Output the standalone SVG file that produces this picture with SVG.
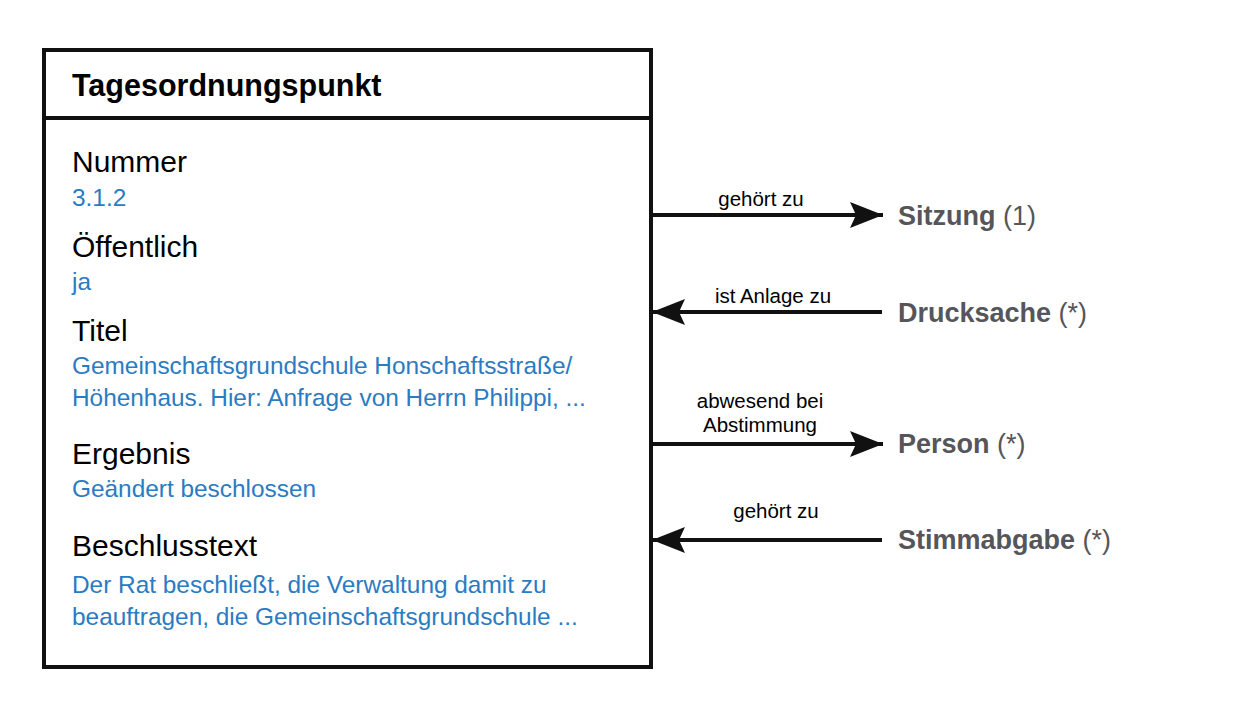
<svg xmlns="http://www.w3.org/2000/svg" width="1256" height="717" viewBox="0 0 1256 717">
<style>
.title{font-family:"Liberation Sans",Arial,sans-serif;font-weight:bold;font-size:30.5px;fill:#000}
.attr{font-family:"Liberation Sans",Arial,sans-serif;font-size:30px;fill:#000}
.val{font-family:"Liberation Sans",Arial,sans-serif;font-size:24.4px;fill:#2a7bc2}
.elabel{font-family:"Liberation Sans",Arial,sans-serif;font-size:20.5px;fill:#000;text-anchor:middle}
.target{font-family:"Liberation Sans",Arial,sans-serif;font-size:27px;fill:#555659}
.target tspan.b{font-weight:bold}
.conn{stroke:#111;stroke-width:4;fill:none}
</style>
<defs>
<marker id="ah" markerUnits="userSpaceOnUse" markerWidth="40" markerHeight="30" refX="33" refY="14" orient="auto">
<path d="M0,1 L33,14 L0,27 L6,14 Z" fill="#111"/>
</marker>
</defs>
<rect width="1256" height="717" fill="#fff"/>
<g id="tagesordnungspunkt">
<rect x="44" y="50" width="607" height="617" fill="#fff" stroke="#111" stroke-width="4"/>
<line x1="44" y1="118" x2="651" y2="118" stroke="#111" stroke-width="4"/>
<text class="title" x="72" y="96">Tagesordnungspunkt</text>
<text class="attr" x="72" y="172">Nummer</text>
<text class="val" x="72" y="206">3.1.2</text>
<text class="attr" x="72" y="257">Öffentlich</text>
<text class="val" x="72" y="290">ja</text>
<text class="attr" x="72" y="341">Titel</text>
<text class="val" x="72" y="374">Gemeinschaftsgrundschule Honschaftsstraße/</text>
<text class="val" x="72" y="406">Höhenhaus. Hier: Anfrage von Herrn Philippi, ...</text>
<text class="attr" x="72" y="464">Ergebnis</text>
<text class="val" x="72" y="497">Geändert beschlossen</text>
<text class="attr" x="72" y="556">Beschlusstext</text>
<text class="val" x="72" y="593">Der Rat beschließt, die Verwaltung damit zu</text>
<text class="val" x="72" y="625">beauftragen, die Gemeinschaftsgrundschule ...</text>
</g>
<g id="sitzung"><text class="target" x="898" y="225"><tspan class="b">Sitzung</tspan> (1)</text></g>
<g id="drucksache"><text class="target" x="898" y="322"><tspan class="b">Drucksache</tspan> (*)</text></g>
<g id="person"><text class="target" x="898" y="453"><tspan class="b">Person</tspan> (*)</text></g>
<g id="stimmabgabe"><text class="target" x="898" y="549"><tspan class="b">Stimmabgabe</tspan> (*)</text></g>
<g id="connectors">
<line class="conn" x1="652" y1="215" x2="883" y2="215" marker-end="url(#ah)"/>
<text class="elabel" x="761" y="206">gehört zu</text>
<line class="conn" x1="882" y1="312" x2="652" y2="312" marker-end="url(#ah)"/>
<text class="elabel" x="773" y="303">ist Anlage zu</text>
<line class="conn" x1="652" y1="444" x2="883" y2="444" marker-end="url(#ah)"/>
<text class="elabel" x="760" y="408">abwesend bei</text>
<text class="elabel" x="760" y="432">Abstimmung</text>
<line class="conn" x1="882" y1="540" x2="652" y2="540" marker-end="url(#ah)"/>
<text class="elabel" x="776" y="518">gehört zu</text>
</g>
</svg>
